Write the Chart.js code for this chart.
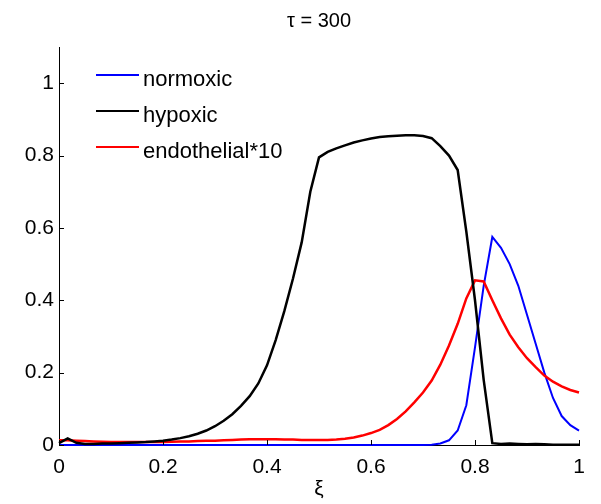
<!DOCTYPE html>
<html>
<head>
<meta charset="utf-8">
<title>tau = 300</title>
<script src="https://cdn.jsdelivr.net/npm/chart.js@4.4.1/dist/chart.umd.min.js"></script>
<style>
    html, body { margin: 0; padding: 0; background: #fff; }
    #profileChart { display: block; }
</style>
</head>
<body>
<canvas id="profileChart" width="601" height="504"></canvas>
<script>
// Spatial grid (xi)
const XI = [
    0, 0.0167, 0.0333, 0.05, 0.0667, 0.0833, 0.1, 0.1167, 0.1333, 0.15,
    0.1667, 0.1833, 0.2, 0.2167, 0.2333, 0.25, 0.2667, 0.2833, 0.3, 0.3167,
    0.3333, 0.35, 0.3667, 0.3833, 0.4, 0.4167, 0.4333, 0.45, 0.4667, 0.4833,
    0.5, 0.5167, 0.5333, 0.55, 0.5667, 0.5833, 0.6, 0.6167, 0.6333, 0.65,
    0.6667, 0.6833, 0.7, 0.7167, 0.7333, 0.75, 0.7667, 0.7833, 0.8, 0.8167,
    0.8333, 0.85, 0.8667, 0.8833, 0.9, 0.9167, 0.9333, 0.95, 0.9667, 0.9833, 1
];

const NORMOXIC = [
    0, 0, 0, 0, 0, 0, 0, 0, 0, 0,
    0, 0, 0, 0, 0, 0, 0, 0, 0, 0,
    0, 0, 0, 0, 0, 0, 0, 0, 0, 0,
    0, 0, 0, 0, 0, 0, 0, 0, 0, 0,
    0, 0, 0, 0.001, 0.004, 0.013, 0.04, 0.11, 0.27, 0.44,
    0.575, 0.545, 0.50, 0.44, 0.36, 0.28, 0.20, 0.13, 0.08, 0.055, 0.04
];

const HYPOXIC = [
    0.005, 0.018, 0.006, 0.003, 0.003, 0.004, 0.004, 0.005, 0.006, 0.007,
    0.008, 0.010, 0.012, 0.015, 0.019, 0.024, 0.031, 0.040, 0.052, 0.067,
    0.085, 0.108, 0.135, 0.170, 0.220, 0.290, 0.370, 0.460, 0.560, 0.700,
    0.795, 0.810, 0.820, 0.828, 0.836, 0.842, 0.847, 0.851, 0.853, 0.855,
    0.856, 0.856, 0.854, 0.848, 0.826, 0.800, 0.760, 0.590, 0.400, 0.180,
    0.005, 0.003, 0.004, 0.003, 0.002, 0.003, 0.002, 0.001, 0.001, 0.001, 0.001
];

const ENDOTHELIAL = [
    0.013, 0.013, 0.012, 0.011, 0.010, 0.009, 0.008, 0.008, 0.008, 0.008,
    0.008, 0.008, 0.008, 0.009, 0.010, 0.010, 0.011, 0.012, 0.012, 0.013,
    0.014, 0.015, 0.016, 0.016, 0.016, 0.016, 0.015, 0.015, 0.014, 0.014,
    0.014, 0.014, 0.015, 0.017, 0.021, 0.026, 0.033, 0.042, 0.055, 0.072,
    0.093, 0.118, 0.145, 0.178, 0.222, 0.275, 0.335, 0.405, 0.455, 0.452,
    0.400, 0.350, 0.305, 0.270, 0.240, 0.215, 0.192, 0.175, 0.162, 0.152, 0.145
];

const SERIES_LABELS = ['normoxic', 'hypoxic', 'endothelial*10'];
const X_TICKS = [0, 0.2, 0.4, 0.6, 0.8, 1];
const Y_TICKS = [0, 0.2, 0.4, 0.6, 0.8, 1];
const X_TICK_LABELS = ['0', '0.2', '0.4', '0.6', '0.8', '1'];
const Y_TICK_LABELS = ['0', '0.2', '0.4', '0.6', '0.8', '1'];

const FONT_FAMILY = '"Liberation Sans", Arial, Helvetica, sans-serif';
const TICK_LEN = 5;

// Pair xi with a series for the linear x axis
function toPoints(values) {
    return values.map((v, i) => ({ x: XI[i], y: v }));
}

// Inward tick marks on the two axes
const inwardTicks = {
    id: 'inwardTicks',
    afterDraw(chart) {
        const ctx = chart.ctx;
        const area = chart.chartArea;
        const xs = chart.scales.x;
        const ys = chart.scales.y;
        ctx.save();
        ctx.strokeStyle = '#000';
        ctx.lineWidth = 1;
        ctx.beginPath();
        Y_TICKS.forEach(v => {
            const py = Math.round(ys.getPixelForValue(v)) + 0.5;
            ctx.moveTo(area.left, py);
            ctx.lineTo(area.left + TICK_LEN, py);
        });
        X_TICKS.forEach(v => {
            const px = Math.round(xs.getPixelForValue(v)) + 0.5;
            ctx.moveTo(px, area.bottom);
            ctx.lineTo(px, area.bottom - TICK_LEN);
        });
        ctx.stroke();
        ctx.restore();
    }
};

// Legend drawn inside the plot, top left
const insideLegend = {
    id: 'insideLegend',
    afterDraw(chart) {
        const ctx = chart.ctx;
        const lineStart = 96, lineEnd = 139, textX = 143;
        const firstRow = 75, rowGap = 36;
        ctx.save();
        ctx.font = '22px ' + FONT_FAMILY;
        ctx.textBaseline = 'alphabetic';
        ctx.fillStyle = '#000';
        chart.data.datasets.forEach((ds, i) => {
            const y = firstRow + i * rowGap;
            ctx.strokeStyle = ds.borderColor;
            ctx.lineWidth = 2;
            ctx.beginPath();
            ctx.moveTo(lineStart, y);
            ctx.lineTo(lineEnd, y);
            ctx.stroke();
            ctx.fillText(ds.label, textX, y + 11);
        });
        ctx.restore();
    }
};

const chart = new Chart(document.getElementById('profileChart'), {
    type: 'line',
    data: {
        datasets: [
            { label: SERIES_LABELS[0], data: toPoints(NORMOXIC), borderColor: '#0000ff', borderWidth: 2, order: 2 },
            { label: SERIES_LABELS[1], data: toPoints(HYPOXIC), borderColor: '#000000', borderWidth: 2.5, order: 0 },
            { label: SERIES_LABELS[2], data: toPoints(ENDOTHELIAL), borderColor: '#ff0000', borderWidth: 2.5, order: 1 }
        ]
    },
    options: {
        responsive: false,
        animation: false,
        clip: false,
        layout: { padding: { left: 0, right: 22, top: 0, bottom: 0 } },
        elements: {
            point: { radius: 0 },
            line: { tension: 0, fill: false }
        },
        plugins: {
            legend: { display: false },
            tooltip: { enabled: false },
            title: {
                display: true,
                text: 'τ = 300',
                fullSize: false,
                color: '#000',
                font: { family: FONT_FAMILY, size: 20, weight: 'normal' },
                padding: { top: 9, bottom: 14 }
            }
        },
        scales: {
            x: {
                type: 'linear',
                min: 0,
                max: 1,
                afterBuildTicks: s => { s.ticks = X_TICKS.map(v => ({ value: v })); },
                afterFit: s => { s.height = 59; },
                border: { display: true, color: '#000', width: 1 },
                grid: { display: false, drawTicks: false },
                ticks: {
                    color: '#000',
                    padding: 10,
                    maxRotation: 0,
                    font: { family: FONT_FAMILY, size: 21 },
                    callback: (value, index) => X_TICK_LABELS[index]
                },
                title: {
                    display: true,
                    text: 'ξ',
                    color: '#000',
                    font: { family: FONT_FAMILY, size: 21 },
                    padding: { top: 0, bottom: 2 }
                }
            },
            y: {
                type: 'linear',
                min: 0,
                max: 1.1,
                afterBuildTicks: s => { s.ticks = Y_TICKS.map(v => ({ value: v })); },
                afterFit: s => { s.width = 59; },
                border: { display: true, color: '#000', width: 1 },
                grid: { display: false, drawTicks: false },
                ticks: {
                    color: '#000',
                    padding: 5,
                    font: { family: FONT_FAMILY, size: 21 },
                    callback: (value, index) => Y_TICK_LABELS[index]
                }
            }
        }
    },
    plugins: [inwardTicks, insideLegend]
});
</script>
</body>
</html>
